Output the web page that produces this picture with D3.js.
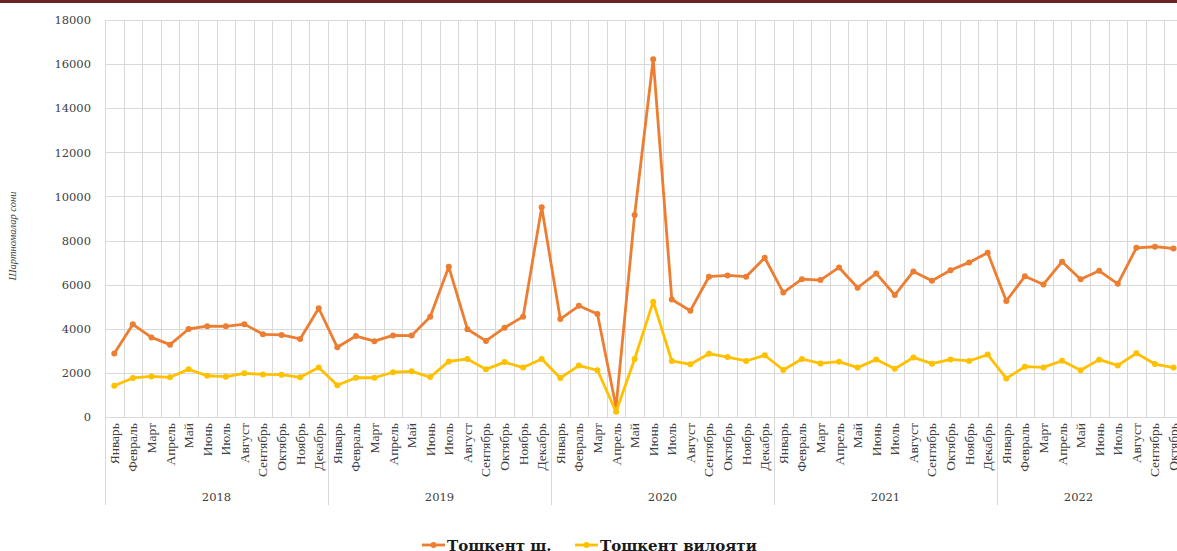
<!DOCTYPE html>
<html>
<head>
<meta charset="utf-8">
<script src="https://cdn.jsdelivr.net/npm/d3@7"></script>
<style>
  html, body { margin: 0; padding: 0; background: #fff; }
  svg { display: block; }
</style>
</head>
<body>
<svg id="chart" width="1177" height="551"></svg>
<script>
// Monthly number of contracts, Tashkent city vs Tashkent region
const years = ["2018", "2019", "2020", "2021", "2022"];
const months = ["Январь", "Февраль", "Март", "Апрель", "Май", "Июнь",
                "Июль", "Август", "Сентябрь", "Октябрь", "Ноябрь", "Декабрь"];
const monthsPerYear = [12, 12, 12, 12, 10];

const tashkentCity = [
  2880, 4200, 3610, 3280, 3990, 4120, 4110, 4210, 3750, 3720, 3540, 4930,
  3160, 3670, 3440, 3700, 3690, 4550, 6810, 3980, 3450, 4050, 4550, 9510,
  4440, 5040, 4670, 450, 9160, 16220, 5330, 4820, 6360, 6420, 6360, 7220,
  5640, 6250, 6210, 6780, 5860, 6510, 5530, 6600, 6180, 6650, 7010, 7450,
  5260, 6380, 6010, 7040, 6250, 6630, 6040, 7670, 7720, 7640
];
const tashkentRegion = [
  1420, 1770, 1840, 1800, 2160, 1870, 1830, 1980, 1930, 1920, 1800, 2240,
  1440, 1780, 1780, 2030, 2070, 1810, 2520, 2630, 2160, 2490, 2240, 2630,
  1770, 2330, 2120, 240, 2630, 5230, 2540, 2390, 2870, 2720, 2540, 2800,
  2130, 2630, 2430, 2510, 2240, 2610, 2190, 2700, 2420, 2610, 2540, 2830,
  1750, 2280, 2250, 2550, 2120, 2600, 2340, 2890, 2400, 2240
];
const yTicks = [0, 2000, 4000, 6000, 8000, 10000, 12000, 14000, 16000, 18000];
const seriesNames = ["Тошкент ш.", "Тошкент вилояти"];
const seriesColors = ["#ED7D31", "#FFC000"];

// Build category list (year, month) from the arrays above
const cats = [];
years.forEach((yr, yi) => {
  for (let m = 0; m < monthsPerYear[yi]; m++) cats.push({ year: yr, month: months[m] });
});

const W = 1177, H = 551;
const plotLeft = 105, plotTop = 20, plotBottom = 417;
const step = 223 / 12;

const svg = d3.select("#chart");
svg.append("rect").attr("width", W).attr("height", H).attr("fill", "#fff");

const x = d3.scaleBand()
  .domain(d3.range(cats.length))
  .range([plotLeft, plotLeft + step * cats.length])
  .paddingInner(0).paddingOuter(0);
const y = d3.scaleLinear().domain([0, 18000]).range([plotBottom, plotTop]);

const g = svg.append("g");

// Horizontal gridlines
g.append("g").selectAll("line").data(yTicks).join("line")
  .attr("x1", plotLeft).attr("x2", x.range()[1])
  .attr("y1", d => Math.round(y(d)) + 0.5).attr("y2", d => Math.round(y(d)) + 0.5)
  .attr("stroke", "#d9d9d9").attr("stroke-width", 1);

// Vertical gridlines at category boundaries
g.append("g").selectAll("line").data(d3.range(cats.length + 1)).join("line")
  .attr("x1", i => Math.round(plotLeft + i * step) + 0.5).attr("x2", i => Math.round(plotLeft + i * step) + 0.5)
  .attr("y1", plotTop).attr("y2", plotBottom)
  .attr("stroke", "#d9d9d9").attr("stroke-width", 1);

// Year separators on the category axis
const groupStarts = [0];
monthsPerYear.forEach((n, i) => groupStarts.push(groupStarts[i] + n));
g.append("g").selectAll("line").data(groupStarts).join("line")
  .attr("x1", i => Math.round(plotLeft + i * step) + 0.5).attr("x2", i => Math.round(plotLeft + i * step) + 0.5)
  .attr("y1", plotBottom).attr("y2", 505)
  .attr("stroke", "#d9d9d9").attr("stroke-width", 1);

// Y axis
const yAxis = d3.axisLeft(y).tickValues(yTicks).tickSize(0).tickPadding(14).tickFormat(d3.format("d"));
const ya = svg.append("g").attr("transform", `translate(${plotLeft},0)`).call(yAxis);
ya.select(".domain").remove();
ya.selectAll("text")
  .attr("font-family", "DejaVu Serif, serif")
  .attr("font-size", 11.5)
  .attr("fill", "#404040");

// Y axis title
svg.append("text")
  .attr("transform", "translate(16,236) rotate(-90)")
  .attr("text-anchor", "middle")
  .attr("font-family", "Liberation Serif, serif")
  .attr("font-style", "italic")
  .attr("font-size", 10.5)
  .attr("fill", "#404040")
  .text("Шартномалар сони");

// Month labels (rotated)
g.append("g").selectAll("text").data(cats).join("text")
  .attr("transform", (d, i) => `translate(${x(i) + x.bandwidth() / 2 + 4.5},423) rotate(-90)`)
  .attr("text-anchor", "end")
  .attr("font-family", "Liberation Serif, serif")
  .attr("font-size", 13.5)
  .attr("fill", "#404040")
  .text(d => d.month);

// Year labels
g.append("g").selectAll("text").data(years).join("text")
  .attr("x", (d, i) => {
    const a = plotLeft + groupStarts[i] * step;
    const b = Math.min(plotLeft + groupStarts[i + 1] * step, W - 17);
    return (a + b) / 2;
  })
  .attr("y", 501)
  .attr("text-anchor", "middle")
  .attr("font-family", "DejaVu Serif, serif")
  .attr("font-size", 11.5)
  .attr("fill", "#404040")
  .text(d => d);

// Series lines and markers
const line = d3.line().x((d, i) => x(i) + x.bandwidth() / 2).y(d => y(d));
[tashkentCity, tashkentRegion].forEach((vals, si) => {
  g.append("path")
    .datum(vals)
    .attr("d", line)
    .attr("fill", "none")
    .attr("stroke", seriesColors[si])
    .attr("stroke-width", 2.8)
    .attr("stroke-linejoin", "round");
  g.append("g").selectAll("circle").data(vals).join("circle")
    .attr("cx", (d, i) => x(i) + x.bandwidth() / 2)
    .attr("cy", d => y(d))
    .attr("r", 3)
    .attr("fill", seriesColors[si]);
});

// Legend
const legendX = [422, 575];
legendX.forEach((lx, i) => {
  const lg = svg.append("g").attr("transform", `translate(${lx},545)`);
  lg.append("line").attr("x1", 0).attr("x2", 23).attr("y1", 0).attr("y2", 0)
    .attr("stroke", seriesColors[i]).attr("stroke-width", 2.8);
  lg.append("circle").attr("cx", 11.5).attr("cy", 0).attr("r", 3).attr("fill", seriesColors[i]);
  lg.append("text").attr("x", 25).attr("y", 5.5)
    .attr("font-family", "DejaVu Serif, serif")
    .attr("font-weight", "bold")
    .attr("font-size", 15)
    .attr("fill", "#1a1a1a")
    .text(seriesNames[i]);
});

// Top border strip
svg.append("rect").attr("x", 0).attr("y", 0).attr("width", W).attr("height", 3).attr("fill", "#6b2222");
</script>
</body>
</html>
